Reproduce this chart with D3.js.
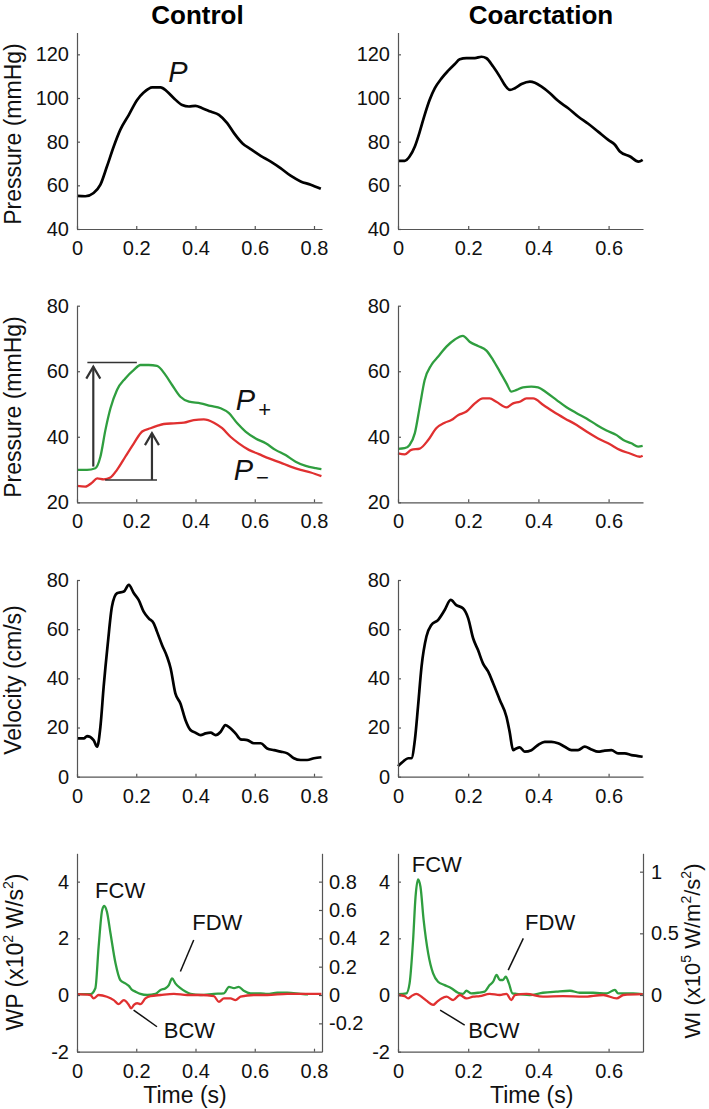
<!DOCTYPE html>
<html>
<head>
<meta charset="utf-8">
<script src="https://cdn.jsdelivr.net/npm/d3@7"></script>
<style>
  html, body { margin: 0; padding: 0; background: #fff; }
  svg text { font-family: 'Liberation Sans', Arial, Helvetica, sans-serif; }
</style>
</head>
<body>
<div id="chart"></div>
<script>
// ---- data (time in s, value) ----
const ctrlPressure = [[0,55.2],[0.028,55],[0.056,56.5],[0.079,60.3],[0.101,68.6],[0.124,77.8],[0.146,85.4],[0.175,92.3],[0.203,99.1],[0.225,102.5],[0.254,104.9],[0.282,104.9],[0.304,103],[0.327,99.9],[0.355,96.8],[0.378,96.1],[0.4,96.4],[0.423,95.3],[0.451,93.8],[0.479,92.3],[0.507,88.5],[0.53,83.9],[0.558,79.3],[0.586,76.6],[0.62,73.5],[0.654,70.9],[0.687,67.9],[0.721,64.4],[0.755,61.8],[0.789,60.3],[0.823,58.4]];
const coarcPressure = [[0,71.2],[0.019,71.2],[0.033,73.2],[0.048,77.8],[0.062,84.6],[0.076,92.3],[0.09,99.1],[0.105,104.5],[0.124,109],[0.143,112.5],[0.162,115.6],[0.176,117.7],[0.195,118.3],[0.219,118.3],[0.238,118.9],[0.252,118.2],[0.271,114.4],[0.29,109.8],[0.304,106],[0.319,103.7],[0.333,104.5],[0.352,106.4],[0.376,107.5],[0.39,107],[0.409,105.2],[0.433,102.2],[0.456,98.7],[0.485,95.3],[0.513,91.5],[0.542,88.2],[0.57,84.6],[0.599,80.8],[0.618,78.6],[0.632,75.5],[0.661,73.2],[0.685,70.9],[0.697,71.7]];

const ctrlPplus = [[0,29.9],[0.034,29.9],[0.062,30.4],[0.079,33.9],[0.096,42.1],[0.113,48.7],[0.135,54.3],[0.163,57.8],[0.192,60.4],[0.214,61.9],[0.242,61.9],[0.27,61.6],[0.299,58.8],[0.321,55.8],[0.349,52.2],[0.378,50.7],[0.417,50.2],[0.451,49.4],[0.485,48.7],[0.513,47.2],[0.541,44.1],[0.569,41.6],[0.603,39.5],[0.637,38],[0.67,36],[0.704,34.4],[0.738,32.4],[0.772,31.1],[0.806,30.4],[0.825,30.1]];
const ctrlPminus = [[0,25],[0.028,24.8],[0.051,26],[0.068,27.3],[0.09,27],[0.113,27.6],[0.135,29.9],[0.163,33.9],[0.192,38],[0.22,41.6],[0.248,42.6],[0.27,43.3],[0.293,43.9],[0.327,44.1],[0.361,44.3],[0.394,45.1],[0.428,45.3],[0.462,44.3],[0.49,42.6],[0.518,40],[0.546,38],[0.58,36],[0.614,34.7],[0.648,33.4],[0.687,32.1],[0.721,30.9],[0.755,29.9],[0.789,29.1],[0.825,28]];
const coarcPplus = [[0,36.3],[0.019,36.5],[0.033,37.5],[0.048,41.1],[0.062,49.2],[0.076,57.3],[0.095,61.9],[0.114,64.4],[0.138,67.5],[0.162,69.7],[0.185,70.8],[0.204,69],[0.228,67.7],[0.252,66.3],[0.271,63.4],[0.29,59.9],[0.309,56.3],[0.323,53.8],[0.338,54.3],[0.356,55.1],[0.38,55.3],[0.399,55.1],[0.423,53.5],[0.452,51.2],[0.48,49],[0.509,47.2],[0.537,45.6],[0.566,43.6],[0.594,41.9],[0.623,40.5],[0.642,39],[0.665,38],[0.684,37],[0.697,37.2]];
const coarcPminus = [[0,34.9],[0.019,34.6],[0.038,36],[0.062,36.4],[0.086,39],[0.109,42.6],[0.133,44.3],[0.152,45.1],[0.171,46.6],[0.195,47.7],[0.219,50.2],[0.242,51.7],[0.261,51.7],[0.28,50.7],[0.309,49],[0.328,50.2],[0.347,50.7],[0.366,51.7],[0.385,51.7],[0.414,49.7],[0.442,47.7],[0.475,45.6],[0.509,43.6],[0.537,41.6],[0.57,39.5],[0.604,37.7],[0.632,36],[0.661,34.9],[0.689,33.9],[0.697,34.2]];

const ctrlVelocity = [[0,15.6],[0.023,15.6],[0.034,16.5],[0.056,14.9],[0.068,12.2],[0.079,20.3],[0.09,36.6],[0.104,54.2],[0.118,69.2],[0.135,74.6],[0.158,75.3],[0.175,78],[0.192,74.6],[0.208,71.9],[0.225,67.1],[0.242,64.4],[0.259,62.4],[0.27,59],[0.287,53.6],[0.304,48.8],[0.316,44.1],[0.332,33.9],[0.349,29.8],[0.366,23.1],[0.383,19],[0.4,17.9],[0.417,16.9],[0.434,17.6],[0.451,17.9],[0.468,16.9],[0.485,18.3],[0.501,21],[0.518,19.7],[0.535,17.6],[0.552,15.2],[0.575,14.9],[0.597,13.6],[0.62,13.6],[0.642,11.5],[0.665,10.8],[0.687,10.2],[0.71,9.5],[0.732,7.5],[0.755,6.8],[0.777,6.8],[0.8,7.5],[0.825,7.9]];
const coarcVelocity = [[0,4.3],[0.014,6.1],[0.029,7.5],[0.038,7.5],[0.048,14.9],[0.057,28.5],[0.067,44.7],[0.081,57],[0.095,61.7],[0.114,63.7],[0.133,67.8],[0.15,71.9],[0.166,69.8],[0.185,68.5],[0.2,64.4],[0.214,56.3],[0.228,51.5],[0.242,46.1],[0.257,42.7],[0.271,38],[0.29,31.2],[0.309,24.4],[0.318,18.3],[0.328,10.8],[0.337,11.5],[0.347,11.9],[0.361,10.2],[0.38,10.8],[0.399,12.9],[0.418,14.2],[0.437,14.2],[0.456,13.6],[0.475,12.2],[0.494,10.8],[0.513,10.8],[0.532,12.2],[0.551,11.1],[0.57,10.2],[0.589,10.6],[0.608,10.8],[0.627,9.5],[0.646,9.5],[0.665,8.8],[0.684,8.4],[0.697,8.1]];

const ctrlWPforward = [[0,0.03],[0.045,0.03],[0.062,0.24],[0.073,1.7],[0.085,3.0],[0.092,3.14],[0.101,2.94],[0.113,2.18],[0.13,1.12],[0.146,0.53],[0.163,0.41],[0.175,0.32],[0.186,0.18],[0.197,0.12],[0.214,0.04],[0.237,0],[0.265,0.04],[0.282,0.18],[0.299,0.24],[0.31,0.35],[0.321,0.59],[0.332,0.41],[0.349,0.24],[0.366,0.12],[0.383,0.04],[0.417,0],[0.462,0.04],[0.496,0.06],[0.513,0.29],[0.53,0.24],[0.546,0.29],[0.563,0.15],[0.586,0.06],[0.62,0.06],[0.642,0.04],[0.676,0.08],[0.71,0.08],[0.755,0.04],[0.78,0.02]];
const ctrlWPbackward = [[0,0.03],[0.045,0],[0.056,-0.12],[0.073,0],[0.101,-0.06],[0.124,-0.18],[0.141,-0.32],[0.158,-0.18],[0.175,-0.35],[0.183,-0.47],[0.192,-0.35],[0.203,-0.29],[0.214,-0.32],[0.231,-0.12],[0.248,-0.04],[0.282,0],[0.327,0.04],[0.372,0],[0.417,0],[0.462,-0.04],[0.479,-0.24],[0.496,-0.12],[0.518,-0.12],[0.535,-0.18],[0.552,-0.06],[0.597,0],[0.642,0],[0.71,0.04],[0.825,0.04]];
const coarcWPforward = [[0,0.03],[0.024,0.06],[0.033,0.41],[0.043,1.94],[0.05,3.47],[0.057,4.08],[0.064,3.82],[0.073,2.65],[0.086,1.47],[0.1,0.76],[0.114,0.47],[0.133,0.35],[0.152,0.24],[0.171,0.08],[0.185,0.04],[0.195,0.15],[0.209,0.06],[0.228,0.08],[0.247,0.12],[0.261,0.35],[0.271,0.47],[0.281,0.71],[0.29,0.53],[0.299,0.53],[0.307,0.65],[0.316,0.41],[0.326,0.06],[0.337,0.04],[0.375,0],[0.413,0.08],[0.451,0.12],[0.49,0.15],[0.518,0.08],[0.556,0.08],[0.594,0.06],[0.618,0.18],[0.627,0.06],[0.67,0.06],[0.697,0.03]];
const coarcWPbackward = [[0,0],[0.019,-0.04],[0.029,-0.12],[0.038,-0.04],[0.052,0.04],[0.067,-0.06],[0.081,-0.2],[0.1,-0.35],[0.111,-0.24],[0.124,-0.12],[0.138,-0.06],[0.157,-0.18],[0.176,0],[0.195,-0.12],[0.214,-0.06],[0.233,-0.04],[0.261,0.04],[0.29,0],[0.309,0.04],[0.323,-0.18],[0.333,0],[0.366,0.04],[0.413,-0.06],[0.47,-0.04],[0.528,-0.06],[0.585,0],[0.623,-0.12],[0.642,0],[0.697,0.03]];

// ---- tick labels ----
const ctrlTimeTicks = [0, 0.2, 0.4, 0.6, 0.8];
const coarcTimeTicks = [0, 0.2, 0.4, 0.6];
const pressureTicks = [40, 60, 80, 100, 120];
const waveTicks = [20, 40, 60, 80];
const velocityTicks = [0, 20, 40, 60, 80];
const wpTicks = [-2, 0, 2, 4];
const wiCtrlTicks = [-0.2, 0, 0.2, 0.4, 0.6, 0.8];
const wiCoarcTicks = [0, 0.5, 1];

const GREEN = "#2f9e3f", RED = "#e03030", AXIS = "#555";

const svg = d3.select("#chart").append("svg")
    .attr("width", 709)
    .attr("height", 1109);

const colX = [77, 398];
const colW = 245;
const rowY = [32.5, 305.7, 580, 853.3];
const rowH = [196.5, 196.6, 196.7, 198.4];
const xMax = [0.827, 0.698];
const xTicksFor = [ctrlTimeTicks, coarcTimeTicks];
const fmt = d => String(d);

function styleAxis(g) {
    g.select(".domain").attr("stroke", AXIS).attr("stroke-width", 1.2);
    g.selectAll(".tick line").attr("stroke", AXIS).attr("stroke-width", 1.2);
    g.selectAll(".tick text").attr("fill", "#111").style("font-size", "20px")
        .style("font-family", "'Liberation Sans', Arial, sans-serif");
}

function panel(col, row, yDomain, yTicks, series) {
    const x0 = colX[col], y0 = rowY[row], h = rowH[row];
    const x = d3.scaleLinear().domain([0, xMax[col]]).range([x0, x0 + colW]);
    const y = d3.scaleLinear().domain(yDomain).range([y0 + h, y0]);

    const line = d3.line().x(d => x(d[0])).y(d => y(d[1])).curve(d3.curveMonotoneX);
    series.forEach(s => {
        svg.append("path")
            .datum(s.data)
            .attr("fill", "none")
            .attr("stroke", s.color)
            .attr("stroke-width", s.width)
            .attr("stroke-linejoin", "round")
            .attr("d", line);
    });

    svg.append("g")
        .attr("transform", `translate(0,${y0 + h})`)
        .call(d3.axisBottom(x).tickValues(xTicksFor[col]).tickFormat(fmt)
            .tickSizeInner(-3).tickSizeOuter(0).tickPadding(12))
        .call(styleAxis);
    svg.append("g")
        .attr("transform", `translate(${x0},0)`)
        .call(d3.axisLeft(y).tickValues(yTicks).tickFormat(fmt)
            .tickSizeInner(-3).tickSizeOuter(0).tickPadding(8))
        .call(styleAxis);
    return {x, y};
}

// rotated axis title; superscripts are shifted with dy, the next run shifts back
function yLabel(xPos, cy, size, parts) {
    const t = svg.append("text")
        .attr("transform", `translate(${xPos},${cy}) rotate(-90)`)
        .attr("text-anchor", "middle")
        .style("font-size", size + "px")
        .attr("fill", "#111");
    const lift = Math.round(size * 0.42);
    let raised = false;
    parts.forEach(p => {
        const ts = t.append("tspan").text(p.text);
        if (p.sup) {
            ts.attr("dy", -lift).style("font-size", Math.round(size * 0.62) + "px");
            raised = true;
        } else if (raised) {
            ts.attr("dy", lift);
            raised = false;
        }
    });
}

function label(p, tx, v, str, size, style) {
    return svg.append("text")
        .attr("x", p.x(tx)).attr("y", p.y(v))
        .style("font-size", size + "px")
        .style("font-style", style || "normal")
        .attr("fill", "#111")
        .text(str);
}

function segment(p, a, b, color, w) {
    svg.append("line")
        .attr("x1", p.x(a[0])).attr("y1", p.y(a[1]))
        .attr("x2", p.x(b[0])).attr("y2", p.y(b[1]))
        .attr("stroke", color).attr("stroke-width", w);
}

function arrowUp(p, t, from, to) {
    const xs = p.x(t), yb = p.y(from), yt = p.y(to);
    svg.append("line").attr("x1", xs).attr("x2", xs).attr("y1", yb).attr("y2", yt)
        .attr("stroke", "#333").attr("stroke-width", 2.2);
    svg.append("path")
        .attr("d", `M${xs - 7},${yt + 12}L${xs},${yt}L${xs + 7},${yt + 12}`)
        .attr("fill", "none").attr("stroke", "#333").attr("stroke-width", 2.2);
}

// ---- titles ----
svg.append("text").attr("x", 197.5).attr("y", 24).attr("text-anchor", "middle")
    .style("font-size", "26px").style("font-weight", "bold").text("Control");
svg.append("text").attr("x", 541).attr("y", 24).attr("text-anchor", "middle")
    .style("font-size", "26px").style("font-weight", "bold").text("Coarctation");

// ---- row 1: pressure ----
const p11 = panel(0, 0, [40, 130], pressureTicks, [{data: ctrlPressure, color: "#000", width: 2.7}]);
panel(1, 0, [40, 130], pressureTicks, [{data: coarcPressure, color: "#000", width: 2.7}]);
label(p11, 0.308, 107.3, "P", 29, "italic");
yLabel(21, 134, 23, [{text: "Pressure (mmHg)"}]);

// ---- row 2: separated waves ----
const p21 = panel(0, 1, [20, 80], waveTicks, [
    {data: ctrlPplus, color: GREEN, width: 2.3},
    {data: ctrlPminus, color: RED, width: 2.3}]);
panel(1, 1, [20, 80], waveTicks, [
    {data: coarcPplus, color: GREEN, width: 2.3},
    {data: coarcPminus, color: RED, width: 2.3}]);
yLabel(21, 407, 23, [{text: "Pressure (mmHg)"}]);
segment(p21, [0.035, 62.7], [0.202, 62.7], "#333", 1.5);
arrowUp(p21, 0.055, 30.9, 61.4);
segment(p21, [0.095, 26.8], [0.27, 26.8], "#333", 1.5);
arrowUp(p21, 0.253, 26.8, 41.1);
const pp = label(p21, 0.536, 48.2, "P", 29, "italic");
pp.append("tspan").attr("dy", 7).attr("dx", 3).style("font-style", "normal").style("font-size", "22px").text("+");
const pm = label(p21, 0.529, 26.8, "P", 29, "italic");
pm.append("tspan").attr("dy", 5).attr("dx", 3).style("font-style", "normal").style("font-size", "22px").text("\u2212");

// ---- row 3: velocity ----
panel(0, 2, [0, 80], velocityTicks, [{data: ctrlVelocity, color: "#000", width: 2.7}]);
panel(1, 2, [0, 80], velocityTicks, [{data: coarcVelocity, color: "#000", width: 2.7}]);
yLabel(21, 680, 23, [{text: "Velocity (cm/s)"}]);

// ---- row 4: wave power / intensity ----
const p41 = panel(0, 3, [-2, 5], wpTicks, [
    {data: ctrlWPforward, color: GREEN, width: 2.3},
    {data: ctrlWPbackward, color: RED, width: 2.3}]);
const p42 = panel(1, 3, [-2, 5], wpTicks, [
    {data: coarcWPforward, color: GREEN, width: 2.3},
    {data: coarcWPbackward, color: RED, width: 2.3}]);

// right axes (wave intensity), zero aligned with left zero
const yR1 = d3.scaleLinear().domain([-0.4, 1.0]).range([rowY[3] + rowH[3], rowY[3]]);
svg.append("g").attr("transform", `translate(${colX[0] + colW},0)`)
    .call(d3.axisRight(yR1).tickValues(wiCtrlTicks).tickFormat(fmt)
        .tickSizeInner(-3).tickSizeOuter(0).tickPadding(7))
    .call(styleAxis);
const yR2 = d3.scaleLinear().domain([-0.46, 1.149]).range([rowY[3] + rowH[3], rowY[3]]);
svg.append("g").attr("transform", `translate(${colX[1] + colW},0)`)
    .call(d3.axisRight(yR2).tickValues(wiCoarcTicks).tickFormat(fmt)
        .tickSizeInner(-3).tickSizeOuter(0).tickPadding(8))
    .call(styleAxis);

yLabel(23, 952, 23, [{text: "WP (x10"}, {text: "2", sup: true}, {text: " W/s"}, {text: "2", sup: true}, {text: ")"}]);
yLabel(700, 951, 22, [{text: "WI (x10"}, {text: "5", sup: true}, {text: " W/m"}, {text: "2", sup: true}, {text: "/s"}, {text: "2", sup: true}, {text: ")"}]);

svg.append("text").attr("x", 185).attr("y", 1103).attr("text-anchor", "middle")
    .style("font-size", "23px").attr("fill", "#111").text("Time (s)");
svg.append("text").attr("x", 531.7).attr("y", 1103).attr("text-anchor", "middle")
    .style("font-size", "23px").attr("fill", "#111").text("Time (s)");

label(p41, 0.061, 3.42, "FCW", 22);
label(p41, 0.389, 2.29, "FDW", 22);
label(p41, 0.293, -1.53, "BCW", 22);
segment(p41, [0.394, 1.94], [0.349, 0.83], "#111", 1.5);
segment(p41, [0.191, -0.53], [0.27, -1.12], "#111", 1.5);

label(p42, 0.039, 4.35, "FCW", 22);
label(p42, 0.362, 2.29, "FDW", 22);
label(p42, 0.2, -1.53, "BCW", 22);
segment(p42, [0.357, 2.0], [0.314, 0.88], "#111", 1.5);
segment(p42, [0.12, -0.53], [0.19, -1.06], "#111", 1.5);
</script>
</body>
</html>
